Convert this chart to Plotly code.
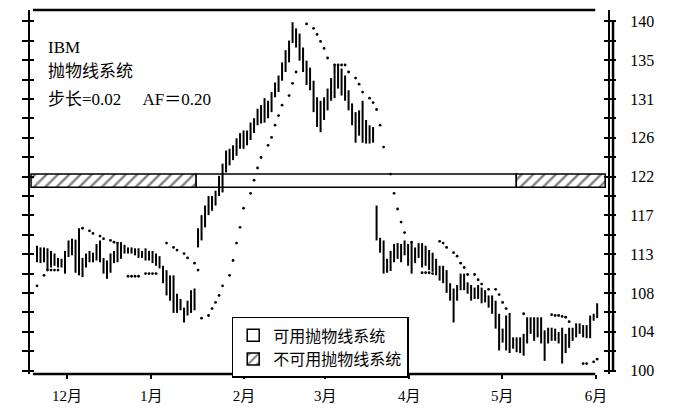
import plotly.graph_objects as go

# ---------------- data ----------------
months = ["12月", "1月", "2月", "3月", "4月", "5月", "6月"]
month_days = [8.6, 32.6, 59.1, 82.3, 106.3, 132.9, 159.7]
price_labels = ["100", "104", "108", "113", "117", "122", "126", "131", "135", "140"]

highs = [
    114.3, 114.1, 114.1, 114.0, 113.7, 113.4, 112.9, 112.8, 113.7, 114.9,
    115.1, 115.0, 116.3, 112.9, 113.4, 113.7, 113.5, 114.5, 114.9, 112.9,
    112.6, 113.4, 113.7, 114.5, 114.7, 114.4, 114.1, 114.1, 114.0, 114.0,
    113.7, 114.0, 113.7, 113.7, 113.4, 113.1, 112.0, 111.5, 110.9, 110.9,
    108.8, 108.2, 107.2, 108.0, 109.2, 109.4, 116.3, 117.8, 118.9, 120.0,
    120.0, 120.6, 122.3, 123.7, 125.2, 125.4, 125.8, 126.6, 127.2, 127.5,
    127.5, 128.4, 128.9, 130.0, 130.4, 131.2, 130.9, 131.9, 133.0, 133.8,
    135.3, 136.7, 137.8, 139.9, 139.2, 138.6, 137.0, 135.5, 134.7, 133.2,
    131.3, 130.9, 131.3, 132.3, 133.5, 134.9, 134.9, 134.6, 133.8, 132.1,
    130.6, 129.6, 129.8, 130.9, 128.7, 128.1, 127.9, 118.9, 115.2, 114.9,
    112.8, 113.7, 114.5, 114.6, 114.5, 114.9, 114.5, 114.7, 114.1, 114.6,
    114.6, 114.3, 113.8, 113.5, 112.8, 112.0, 112.0, 111.5, 110.0, 109.4,
    109.8, 111.1, 111.1, 110.1, 109.8, 109.5, 109.8, 109.5, 109.2, 108.6,
    108.6, 108.0, 106.5, 104.8, 106.3, 106.6, 103.8, 103.8, 103.8, 104.2,
    106.1, 106.1, 106.1, 106.1, 106.1, 104.6, 104.9, 104.9, 104.8, 104.4,
    104.9, 104.2, 104.9, 104.9, 105.4, 105.4, 105.2, 105.2, 106.3, 106.5,
    107.7,
]
lows = [
    112.4, 112.3, 112.4, 111.5, 111.8, 112.0, 111.8, 111.8, 111.1, 113.0,
    113.2, 111.2, 110.9, 110.7, 111.8, 112.4, 112.4, 112.6, 112.4, 111.1,
    110.5, 111.2, 112.3, 112.4, 112.8, 113.4, 113.4, 113.4, 113.2, 112.9,
    112.9, 112.6, 112.6, 112.3, 112.0, 111.7, 110.0, 108.6, 108.0, 106.6,
    106.6, 106.9, 105.5, 106.3, 106.6, 106.9, 114.1, 114.9, 116.4, 117.8,
    118.3, 118.9, 120.0, 120.4, 122.7, 123.5, 124.1, 124.6, 125.4, 125.4,
    125.8, 126.4, 127.2, 128.1, 128.3, 128.4, 128.9, 129.6, 131.3, 131.9,
    133.2, 134.2, 135.3, 137.5, 137.0, 135.5, 134.2, 132.7, 132.1, 129.6,
    127.9, 127.3, 128.7, 129.8, 130.9, 131.2, 132.3, 131.5, 130.9, 129.8,
    128.1, 126.1, 126.9, 126.1, 126.0, 126.0, 126.1, 114.9, 113.5, 111.1,
    111.2, 111.4, 112.4, 112.8, 112.4, 113.2, 112.0, 111.1, 112.3, 112.9,
    111.8, 112.0, 111.5, 111.3, 110.9, 110.3, 110.0, 108.9, 108.0, 105.5,
    108.0, 109.2, 109.2, 108.8, 108.0, 108.2, 108.2, 107.7, 107.8, 107.2,
    106.5, 104.8, 102.3, 103.2, 102.3, 102.0, 102.5, 102.1, 102.0, 101.7,
    103.1, 104.2, 103.4, 103.8, 103.1, 101.1, 103.1, 103.4, 103.4, 103.1,
    100.8, 102.0, 102.6, 103.4, 103.8, 104.2, 103.8, 103.7, 103.7, 105.7,
    106.0,
]

sar_days = [
    0, 2, 3, 4, 5, 6,
    13, 15, 16, 18, 19, 21, 22, 23,
    26, 27, 28, 29, 31, 32, 33, 34,
    37, 39, 40, 42, 43, 45, 46,
    47, 49, 50, 51, 52, 53, 55, 56, 57, 58, 59, 61, 62, 63, 64, 66, 67, 68, 69, 70, 72, 73, 74,
    77, 79, 80, 81, 82, 83, 85, 86, 87, 88, 89, 91, 92, 93, 95, 96, 97, 98, 99, 101, 102, 103, 104, 105, 107,
    110, 111, 112, 113,
    115, 116, 117, 119, 120, 121, 122, 123, 125, 126, 127, 129, 131, 132, 133, 134, 139, 147, 148, 149, 150, 151, 152,
    156, 157, 159, 160,
]
sar_vals = [
    109.7, 110.9, 111.5, 111.5, 111.5, 111.5,
    116.3, 116.0, 115.7, 115.4, 115.1, 114.9, 114.7, 114.6,
    110.8, 110.8, 110.8, 110.8, 111.1, 111.1, 111.1, 111.1,
    114.6, 114.1, 113.8, 113.4, 112.9, 112.3, 111.5,
    106.0, 106.3, 107.1, 107.8, 108.6, 109.7, 110.9, 112.6, 114.6, 116.4, 118.6, 120.3, 121.8, 123.2,
    124.4, 125.8, 126.7, 128.1, 129.2, 130.4, 131.5, 132.9, 134.2,
    139.7, 139.2, 138.5, 137.7, 136.9, 135.8, 135.0, 135.0, 135.0, 135.0, 134.2, 133.5, 132.8, 131.9,
    131.2, 130.7, 129.9, 128.1, 125.6, 122.5, 120.3, 118.5, 117.0, 115.8, 114.7,
    111.2, 111.2, 111.2, 111.1,
    114.8, 114.6, 114.1, 113.5, 113.1, 112.3, 111.8, 111.0, 111.0, 110.4, 109.9, 109.3, 109.3, 108.7,
    107.8, 107.1, 106.5, 106.4, 106.3, 106.3, 106.2, 106.1, 105.6,
    100.8, 100.8, 101.0, 101.3,
]

usable_periods = [(45.4, 136.9)]
unusable_periods = [(-1.7, 45.4), (136.9, 162.3)]
band_low, band_high = 121.0, 122.5

# ---------------- figure ----------------
FONT = "Liberation Serif, Noto Sans CJK SC, serif"
band_mid = (band_low + band_high) / 2
band_w = band_high - band_low

fig = go.Figure()

fig.add_trace(go.Bar(
    orientation="h",
    y=[band_mid] * len(usable_periods),
    x=[e - s for s, e in usable_periods],
    base=[s for s, e in usable_periods],
    width=band_w,
    marker=dict(color="white", line=dict(color="black", width=1.5)),
    name="可用抛物线系统", legendrank=1, hoverinfo="skip",
))
fig.add_trace(go.Bar(
    orientation="h",
    y=[band_mid] * len(unusable_periods),
    x=[e - s for s, e in unusable_periods],
    base=[s for s, e in unusable_periods],
    width=band_w,
    marker=dict(color="white",
                pattern=dict(shape="/", fgcolor="black", bgcolor="white", size=8, solidity=0.3),
                line=dict(color="black", width=1.5)),
    name="不可用抛物线系统", legendrank=2, hoverinfo="skip",
))

bx, by = [], []
for i, (h, l) in enumerate(zip(highs, lows)):
    bx += [i, i, None]
    by += [l, h, None]
fig.add_trace(go.Scatter(x=bx, y=by, mode="lines", line=dict(color="black", width=2),
                         showlegend=False, hoverinfo="skip"))

fig.add_trace(go.Scatter(x=sar_days, y=sar_vals, mode="markers",
                         marker=dict(color="black", size=2.8), showlegend=False, hoverinfo="skip"))

fig.add_trace(go.Scatter(x=[None], y=[None], yaxis="y2", showlegend=False, hoverinfo="skip"))

yr = [99.6, 141.3]
ytick_vals = [100 + 20 / 9 * k for k in range(19)]
ytick_text = [price_labels[k // 2] if k % 2 == 0 else "" for k in range(19)]

# page body has an 8px margin, so the figure is 672x410 and offset accordingly
fig.update_layout(
    width=672, height=410,
    margin=dict(l=22, r=72, t=2, b=44),
    paper_bgcolor="white", plot_bgcolor="white",
    barmode="overlay",
    font=dict(family=FONT, color="black", size=16),
    xaxis=dict(range=[-2, 163.1], showgrid=False, zeroline=False, showline=False,
               tickmode="array", tickvals=month_days, ticktext=months,
               ticks="outside", ticklen=4, tickwidth=1.5, tickcolor="black",
               tickfont=dict(size=15, family=FONT), ticklabelstandoff=4),
    yaxis=dict(range=yr, side="right", showgrid=False, zeroline=False,
               showline=True, linewidth=2, linecolor="black", mirror="ticks",
               tickmode="array", tickvals=ytick_vals, ticktext=ytick_text,
               ticks="outside", ticklen=6, tickwidth=2, tickcolor="black",
               tickfont=dict(size=16, family=FONT), ticklabelstandoff=11),
    yaxis2=dict(range=yr, side="right", overlaying="y", showgrid=False, zeroline=False,
                showline=False, mirror="ticks",
                tickmode="array", tickvals=ytick_vals, showticklabels=False,
                ticks="inside", ticklen=4, tickwidth=2, tickcolor="black"),
    legend=dict(x=0.349, y=0.157, xanchor="left", yanchor="top",
                bgcolor="white", bordercolor="black", borderwidth=1.5,
                font=dict(size=16, family=FONT), itemwidth=30, tracegroupgap=0),
    shapes=[
        dict(type="line", xref="paper", yref="paper", x0=0.005, x1=0.978, y0=1, y1=1,
             line=dict(color="black", width=2.5)),
        dict(type="line", xref="paper", yref="paper", x0=0.005, x1=0.978, y0=0, y1=0,
             line=dict(color="black", width=2.5)),
        dict(type="line", xref="paper", yref="y", x0=1.0087, x1=1.0087, y0=100, y1=140,
             line=dict(color="black", width=2.5)),
    ],
    annotations=[
        dict(text="IBM", xref="paper", yref="paper", x=0.027, y=0.898,
             xanchor="left", yanchor="middle", showarrow=False, font=dict(size=17, family=FONT)),
        dict(text="抛物线系统", xref="paper", yref="paper", x=0.027, y=0.830,
             xanchor="left", yanchor="middle", showarrow=False, font=dict(size=17, family=FONT)),
        dict(text="步长=0.02\u00a0\u00a0\u00a0\u00a0\u00a0AF＝0.20", xref="paper", yref="paper", x=0.027, y=0.755,
             xanchor="left", yanchor="middle", showarrow=False, font=dict(size=17, family=FONT)),
    ],
)

fig.write_html("out.html")
